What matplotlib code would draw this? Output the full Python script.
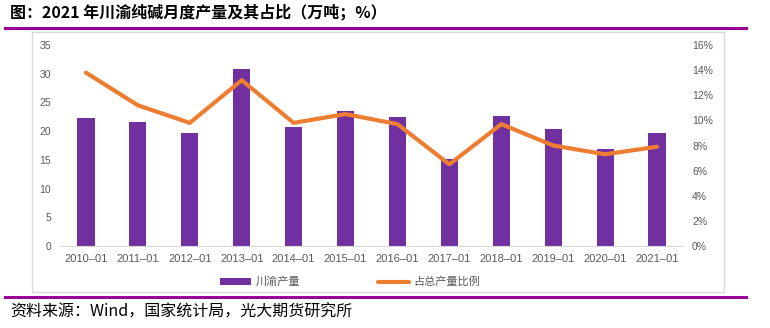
import numpy as np
import matplotlib
matplotlib.use("Agg")
import matplotlib.pyplot as plt
from matplotlib.patches import Rectangle
from matplotlib.lines import Line2D

plt.rcParams['font.family'] = ['Liberation Sans', 'Noto Sans CJK SC', 'DejaVu Sans']

# data
months = ["2010–01", "2011–01", "2012–01", "2013–01", "2014–01", "2015–01",
          "2016–01", "2017–01", "2018–01", "2019–01", "2020–01", "2021–01"]
output_wt = [22.3, 21.6, 19.7, 30.8, 20.7, 23.5, 22.5, 15.1, 22.6, 20.4, 16.9, 19.7]
share_pct = [13.8, 11.2, 9.8, 13.2, 9.8, 10.5, 9.7, 6.5, 9.7, 8.0, 7.3, 7.9]

purple = "#7030a0"
orange = "#ed7d31"
gray = "#595959"
W, H = 770, 328

fig = plt.figure(figsize=(W / 100, H / 100), dpi=100)

# chart frame and the two purple rules
fig.add_artist(Rectangle((32 / W, 1 - 292 / H), (724 - 32) / W, (292 - 32) / H,
                         transform=fig.transFigure, fill=False, ec="#d9d9d9", lw=1))
fig.add_artist(Line2D([5 / W, 746 / W], [1 - 28 / H] * 2, transform=fig.transFigure,
                      color="#990099", lw=2.2))
fig.add_artist(Line2D([5 / W, 746 / W], [1 - 297 / H] * 2, transform=fig.transFigure,
                      color="#990099", lw=2.2))

fig.text(10 / W, 1 - 12 / H, "图：2021 年川渝纯碱月度产量及其占比（万吨；%）",
         fontsize=11.5, fontweight="bold", va="center", ha="left", color="black",
         family=['Noto Sans CJK SC', 'DejaVu Sans'])
fig.text(10 / W, 1 - 312 / H, "资料来源：Wind，国家统计局，光大期货研究所",
         fontsize=11.5, va="center", ha="left", color="black",
         family=['Noto Sans CJK SC', 'DejaVu Sans'])

ax = fig.add_axes([60 / W, 1 - 246 / H, (683 - 60) / W, (246 - 45) / H])
x = np.arange(len(months))
bars = ax.bar(x, output_wt, width=0.33, color=purple, zorder=2, label="川渝产量")
ax.set_xlim(-0.5, len(months) - 0.5)
ax.set_ylim(0, 35)
ax.set_yticks(np.arange(0, 36, 5))
ax.set_xticks(x)
ax.set_xticklabels(months)
for s in ["top", "left", "right"]:
    ax.spines[s].set_visible(False)
ax.spines["bottom"].set_color("#d9d9d9")
ax.tick_params(axis="both", length=0, labelsize=7.5, labelcolor=gray)
ax.tick_params(axis="y", pad=6.5)
ax.tick_params(axis="x", pad=6, labelsize=8)

ax2 = ax.twinx()
line, = ax2.plot(x, share_pct, color=orange, lw=3, zorder=3, label="占总产量比例",
                 solid_capstyle="round", solid_joinstyle="round")
ax2.set_ylim(0, 16)
ax2.set_yticks(np.arange(0, 17, 2))
ax2.set_yticklabels([f"{v}%" for v in range(0, 17, 2)])
for s in ["top", "left", "right", "bottom"]:
    ax2.spines[s].set_visible(False)
ax2.tick_params(axis="y", length=0, labelsize=7.5, labelcolor=gray, pad=6.5)

leg = fig.legend([bars, line], ["川渝产量", "占总产量比例"], loc="center",
                 bbox_to_anchor=(350 / W, 1 - 282 / H), ncol=2, frameon=False,
                 fontsize=8, handlelength=2.8, handleheight=0.6, columnspacing=7,
                 handletextpad=0.4)
for t in leg.get_texts():
    t.set_color(gray)

fig.savefig("out.png", dpi=100)
